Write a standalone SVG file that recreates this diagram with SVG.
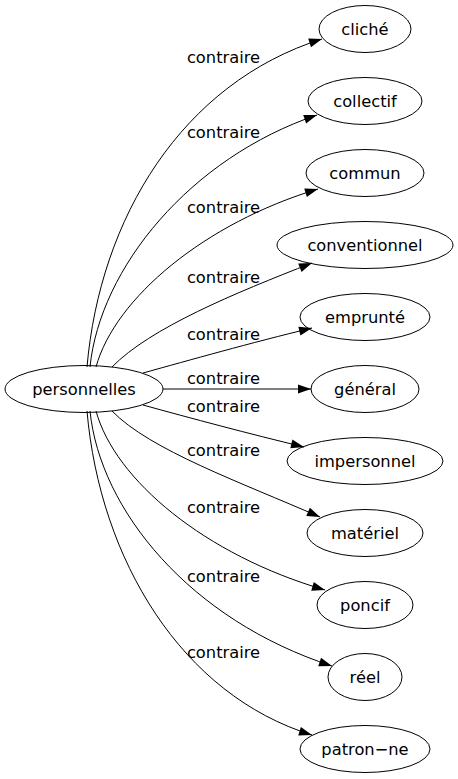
<svg xmlns="http://www.w3.org/2000/svg" width="458" height="779" viewBox="0 0 458 779">
<style>
.n ellipse{fill:none;stroke:#000;stroke-width:1}
text{font-family:"DejaVu Sans",sans-serif;font-size:16.3px;fill:#000;text-anchor:middle}
.e path{fill:none;stroke:#000;stroke-width:1;marker-end:url(#ah)}
</style>
<defs>
<marker id="ah" markerUnits="userSpaceOnUse" markerWidth="14" markerHeight="10" refX="13" refY="4.5" orient="auto" overflow="visible">
<path d="M0,0 L13,4.5 L0,9 z" fill="#000"/>
</marker>
</defs>
<rect width="458" height="779" fill="#fff"/>
<g class="e" id="edges">
<path d="M87,367 C100,218 182,83 322,39"/>
<path d="M90,367 C100,268 190,158 317,115"/>
<path d="M96,367 C115,298 205,223 318,189"/>
<path d="M112,367 C150,328 235,293 312,263"/>
<path d="M143,373 C190,360 250,343 312,328"/>
<path d="M163,389 L311,389"/>
<path d="M143,405 C190,418 250,434 304,447"/>
<path d="M112,411 C150,450 240,482 320,517"/>
<path d="M96,411 C115,480 205,555 325,590"/>
<path d="M90,411 C100,510 190,620 332,666"/>
<path d="M87,411 C100,560 182,695 312,735"/>
</g>
<g id="edge-labels">
<text x="223.5" y="63">contraire</text>
<text x="223.5" y="138">contraire</text>
<text x="223.5" y="213">contraire</text>
<text x="223.5" y="283">contraire</text>
<text x="223.5" y="340">contraire</text>
<text x="223.5" y="384">contraire</text>
<text x="223.5" y="412">contraire</text>
<text x="223.5" y="456">contraire</text>
<text x="223.5" y="513">contraire</text>
<text x="223.5" y="582">contraire</text>
<text x="223.5" y="658">contraire</text>
</g>
<g class="n" id="personnelles"><ellipse cx="84" cy="389" rx="79" ry="23.5"/><text x="84" y="395">personnelles</text></g>
<g class="n" id="cliche"><ellipse cx="365" cy="29" rx="46" ry="23.5"/><text x="365" y="35">cliché</text></g>
<g class="n" id="collectif"><ellipse cx="365" cy="101" rx="57" ry="23.5"/><text x="365" y="107">collectif</text></g>
<g class="n" id="commun"><ellipse cx="365" cy="173" rx="59" ry="23.5"/><text x="365" y="179">commun</text></g>
<g class="n" id="conventionnel"><ellipse cx="365" cy="245" rx="88" ry="23.5"/><text x="365" y="251">conventionnel</text></g>
<g class="n" id="emprunte"><ellipse cx="365" cy="317" rx="65" ry="23.5"/><text x="365" y="323">emprunté</text></g>
<g class="n" id="general"><ellipse cx="365" cy="389" rx="54" ry="23.5"/><text x="365" y="395">général</text></g>
<g class="n" id="impersonnel"><ellipse cx="365" cy="461" rx="78" ry="23.5"/><text x="365" y="467">impersonnel</text></g>
<g class="n" id="materiel"><ellipse cx="365" cy="533" rx="58" ry="23.5"/><text x="365" y="539">matériel</text></g>
<g class="n" id="poncif"><ellipse cx="365" cy="605" rx="48" ry="23.5"/><text x="365" y="611">poncif</text></g>
<g class="n" id="reel"><ellipse cx="365" cy="677" rx="37" ry="23.5"/><text x="365" y="683">réel</text></g>
<g class="n" id="patron-ne"><ellipse cx="365" cy="749" rx="65" ry="23.5"/><text x="365" y="755">patron−ne</text></g>
</svg>
